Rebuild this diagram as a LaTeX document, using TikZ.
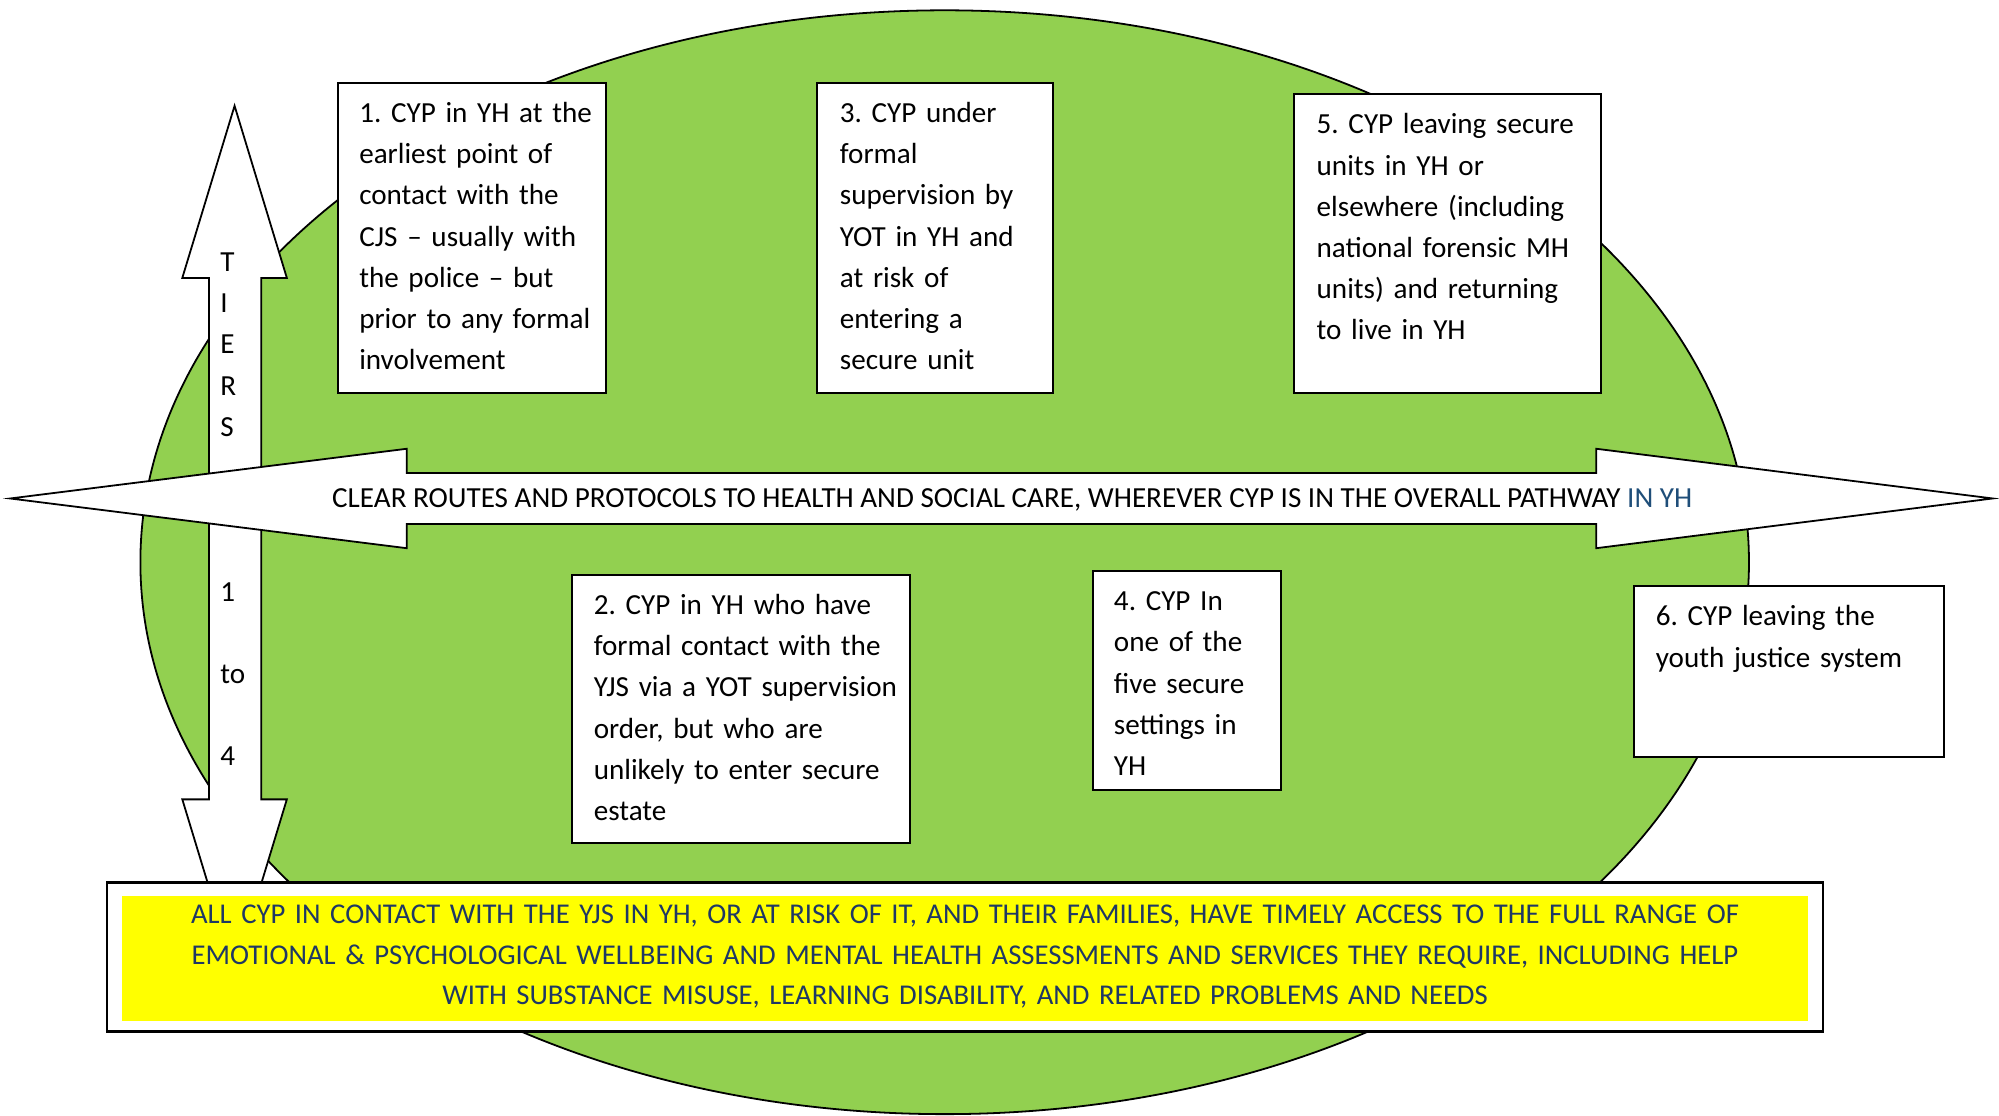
\documentclass[tikz,border=0pt]{standalone}
\usepackage{fontspec}
\setmainfont{Carlito}
\usetikzlibrary{fit}
\definecolor{cgreen}{HTML}{92D050}
\definecolor{cyellow}{HTML}{FFFF00}
\definecolor{cnavy}{HTML}{1F3864}
\definecolor{cblue}{HTML}{1F4E79}
\tikzset{
  every picture/.style={line width=0.9pt, x=0.02cm, y=-0.02cm},
  tierbox/.style={draw=black, fill=white, inner sep=0pt},
  boxtext/.style={anchor=base west, align=left, inner sep=0pt, font=\fontsize{13}{18.4}\selectfont\frenchspacing},
  bigarrow/.style={draw=black, fill=white, line width=0.8pt, line join=miter},
}

\begin{document}
\begin{tikzpicture}
  \useasboundingbox (0,0) rectangle (1568,875);
  % the pathway
  \draw[fill=cgreen, line width=0.8pt] (741,441) ellipse [x radius=12.62cm, y radius=8.66cm];
  % tiers arrow
  \draw[bigarrow] (184,83) -- (225,218) -- (205,218) -- (205,627) -- (225,627) -- (184,762)
     -- (143,627) -- (164,627) -- (164,218) -- (143,218) -- cycle;
  \node[boxtext, text width=1cm] (tiers) at (172,213) {T\\I\\E\\R\\S\\[1.95cm]1\\[0.64cm]to\\[0.64cm]4};
  % routes arrow
  \draw[bigarrow] (8,391) -- (319,352) -- (319,371) -- (1252,371) -- (1252,352) -- (1563,391)
     -- (1252,430) -- (1252,411) -- (319,411) -- (319,430) -- cycle;
  \node[boxtext, anchor=base] (routes) at (794,398) {CLEAR ROUTES AND PROTOCOLS TO HEALTH AND SOCIAL CARE, WHEREVER CYP IS IN THE OVERALL PATHWAY \textcolor{cblue}{IN YH}};

  \node[tierbox, fit={(265,65) (475,308)}] (b1) {};
  \node[boxtext, text width=4.2cm] (t1) at (281,96) {1. CYP in YH at the\\earliest point of\\contact with the\\CJS -- usually with\\the police -- but\\prior to any formal\\involvement};
  \node[tierbox, fit={(641,65) (826,308)}] (b3) {};
  \node[boxtext, text width=3.7cm] (t3) at (658,96) {3. CYP under\\formal\\supervision by\\YOT in YH and\\at risk of\\entering a\\secure unit};
  \node[tierbox, fit={(1015,74) (1256,308)}] (b5) {};
  \node[boxtext, text width=4.8cm] (t5) at (1032,105) {5. CYP leaving secure\\units in YH or\\elsewhere (including\\national forensic MH\\units) and returning\\to live in YH};
  \node[tierbox, fit={(449,451) (714,661)}] (b2) {};
  \node[boxtext, text width=5.3cm] (t2) at (465,482) {2. CYP in YH who have\\formal contact with the\\YJS via a YOT supervision\\order, but who are\\unlikely to enter secure\\estate};
  \node[tierbox, fit={(857,448) (1005,620)}] (b4) {};
  \node[boxtext, text width=3cm] (t4) at (873,479) {4. CYP In\\one of the\\five secure\\settings in\\YH};
  \node[tierbox, fit={(1282,460) (1525,594)}] (b6) {};
  \node[boxtext, text width=4.9cm] (t6) at (1298,491) {6. CYP leaving the\\youth justice system};

  % outcome for all
  \node[tierbox, line width=1.2pt, fit={(84,692) (1430,809)}] (all) {};
  \node[fill=cyellow, inner sep=0pt, fit={(96,703) (1418,801)}] (allfill) {};
  \node[boxtext, anchor=base, align=center, text width=27cm, text=cnavy, font=\fontsize{12.8}{18.3}\selectfont] (alltext) at (757,724) {ALL CYP IN CONTACT WITH THE YJS IN YH, OR AT RISK OF IT, AND THEIR FAMILIES, HAVE TIMELY ACCESS TO THE FULL RANGE OF\\EMOTIONAL \& PSYCHOLOGICAL WELLBEING AND MENTAL HEALTH ASSESSMENTS AND SERVICES THEY REQUIRE, INCLUDING HELP\\WITH SUBSTANCE MISUSE, LEARNING DISABILITY, AND RELATED PROBLEMS AND NEEDS};
\end{tikzpicture}
\end{document}
